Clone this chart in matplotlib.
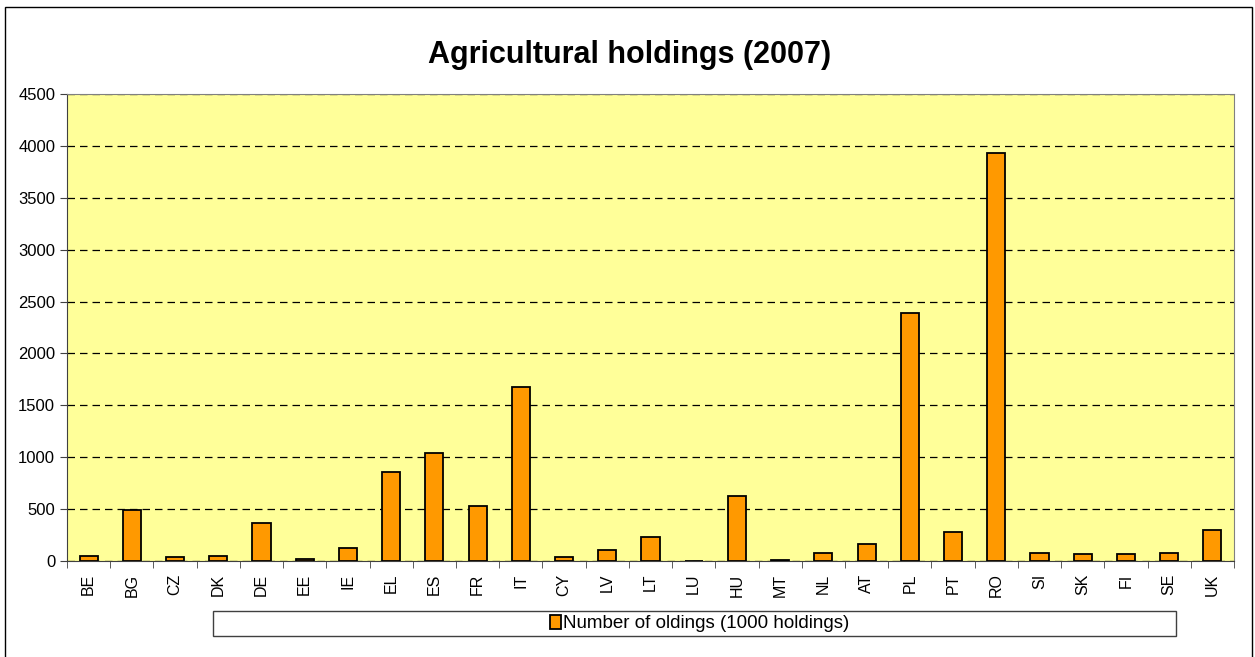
import numpy as np
import matplotlib.pyplot as plt
from matplotlib.patches import Rectangle, Patch

plt.rcParams['font.family'] = ['Liberation Sans', 'DejaVu Sans']

# Agricultural holdings 2007, thousands
countries = ["BE", "BG", "CZ", "DK", "DE", "EE", "IE", "EL", "ES", "FR", "IT", "CY", "LV", "LT",
             "LU", "HU", "MT", "NL", "AT", "PL", "PT", "RO", "SI", "SK", "FI", "SE", "UK"]
holdings = [48, 493, 39, 45, 370, 23, 128, 860, 1044, 527, 1679, 40, 108, 230,
            2, 626, 11, 77, 165, 2391, 275, 3931, 75, 69, 68, 73, 300]

W, H = 1255, 657
fig = plt.figure(figsize=(W / 100, H / 100), dpi=100)

# outer chart border
fig.patches.append(Rectangle((5 / W, -0.01), 1247 / W, 1 - 7 / H + 0.01,
                             transform=fig.transFigure, fill=False,
                             edgecolor='black', linewidth=1))

ax = fig.add_axes([67 / W, 1 - 561 / H, (1234 - 67) / W, (561 - 94) / H])
ax.set_facecolor('#FFFF99')

x = np.arange(len(countries))
ax.bar(x, holdings, width=0.42, color='#FF9900', edgecolor='black', linewidth=1.3, zorder=3)

ax.set_xlim(-0.5, len(countries) - 0.5)
ax.set_ylim(0, 4500)
ax.set_yticks(np.arange(0, 4501, 500))
ax.yaxis.grid(True, color='black', linestyle=(0, (6, 4)), linewidth=0.9, zorder=1)

ax.set_xticks(x)
ax.set_xticklabels(countries, rotation=90, fontsize=11.5)
ax.tick_params(axis='x', length=0, pad=9)
ax.set_xticks(np.arange(-0.5, len(countries), 1), minor=True)
ax.tick_params(axis='x', which='minor', length=5, color='#404040')
ax.tick_params(axis='y', labelsize=12, length=5, color='#404040')

for side in ['top', 'right']:
    ax.spines[side].set_color('#808080')
for side in ['left', 'bottom']:
    ax.spines[side].set_color('#404040')

fig.text(630 / W, 1 - 55 / H, "Agricultural holdings (2007)", ha='center', va='center',
         fontsize=22, fontweight='bold')

# legend box
fig.patches.append(Rectangle((213 / W, 1 - 636 / H), (1176 - 213) / W, 25 / H,
                             transform=fig.transFigure, fill=False,
                             edgecolor='#404040', linewidth=1))
handle = Patch(facecolor='#FF9900', edgecolor='black', linewidth=1.3)
fig.legend([handle], ["Number of oldings (1000 holdings)"], loc='center',
           bbox_to_anchor=(700 / W, 1 - 623.5 / H), frameon=False, fontsize=13.5,
           handlelength=0.55, handleheight=0.8, handletextpad=0.15)

fig.savefig('out.png', dpi=100)
